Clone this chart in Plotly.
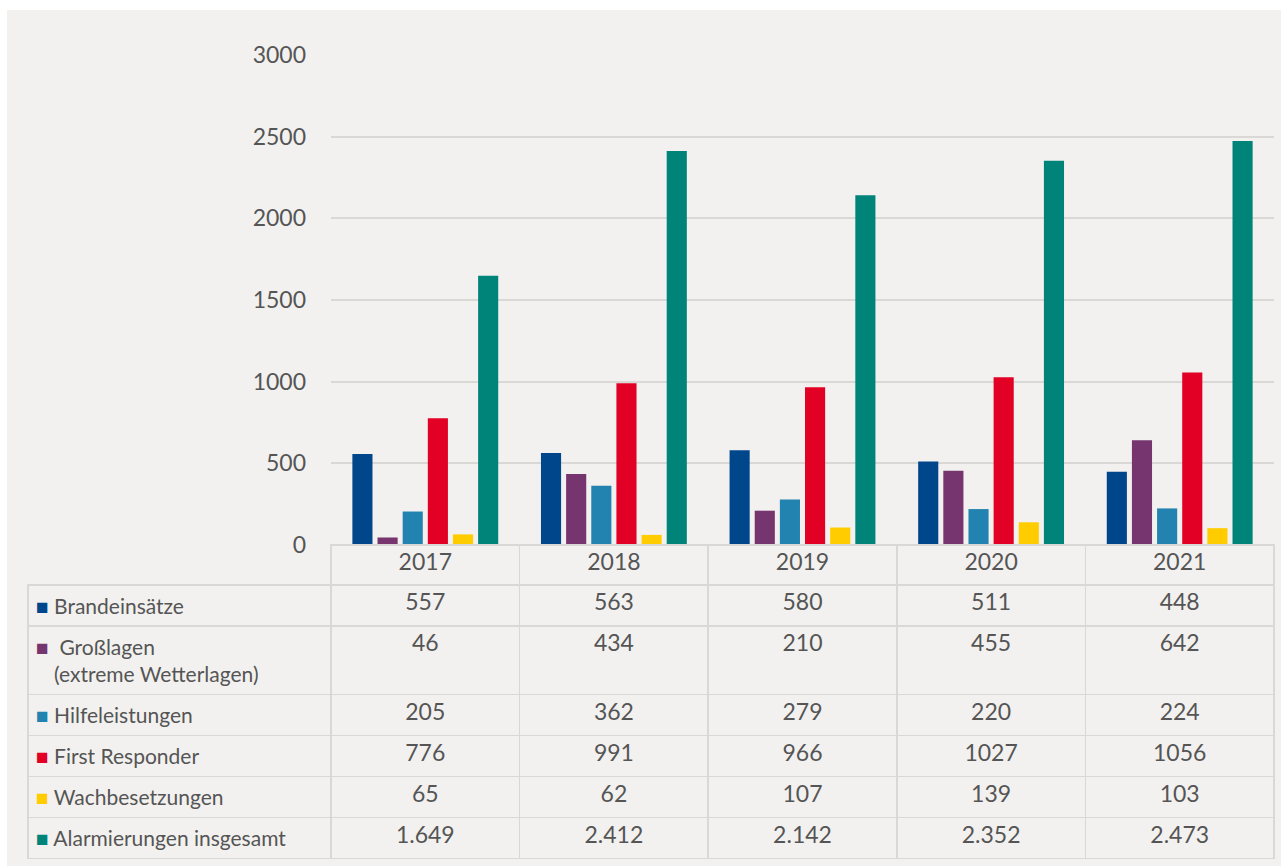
import plotly.graph_objects as go

years = ["2017", "2018", "2019", "2020", "2021"]
series_names = ["Brandeinsätze", "Großlagen (extreme Wetterlagen)", "Hilfeleistungen",
                "First Responder", "Wachbesetzungen", "Alarmierungen insgesamt"]
brand = [557, 563, 580, 511, 448]
grosslagen = [46, 434, 210, 455, 642]
hilfe = [205, 362, 279, 220, 224]
first_resp = [776, 991, 966, 1027, 1056]
wache = [65, 62, 107, 139, 103]
alarm = [1649, 2412, 2142, 2352, 2473]
colors = ["#00468b", "#76356f", "#2383b0", "#e30025", "#ffcc00", "#00847a"]
y_ticks = [0, 500, 1000, 1500, 2000, 2500, 3000]

values = [brand, grosslagen, hilfe, first_resp, wache, alarm]

W, H = 1281, 866
BG = "#f2f1ef"
GRID = "#dad8d5"
TXT = "#555555"
CLEAR = "rgba(0,0,0,0)"
FONT = "Lato"
FS = 23        # axis / header / value text
FS_LAB = 21    # first table column (row labels)

fig = go.Figure()
for name, vals, col in zip(series_names, values, colors):
    fig.add_trace(go.Bar(x=years, y=vals, name=name, marker=dict(color=col, line=dict(width=0)),
                         showlegend=False))

def fmt(v, total=False):
    return f"{v:,}".replace(",", ".") if total else str(v)

NB = "\u00a0"

def square(col):
    return f'<a href=""style="color:{col}">■</a>'

first_col = []
for i, (name, col) in enumerate(zip(series_names, colors)):
    if i == 1:
        a, b = name.split(" (")
        ghost = f'<span style="color:{BG}">■</span>'
        first_col.append(f'<span style="color:{col}">■</span>{NB}{NB}{a}<br>{ghost}{NB}({b.replace(" ", NB)}')
    else:
        first_col.append(f"{square(col)}{NB}{name.replace(' ', NB)}")

cols = [first_col]
for j in range(len(years)):
    cols.append([fmt(vals[j], total=(i == len(values) - 1)) for i, vals in enumerate(values)])

x0p, x1p = 331 / W, 1274 / W
fig.add_trace(go.Table(
    domain=dict(x=[28 / W, 1274 / W], y=[0, (H - 545) / H]),
    columnwidth=[303] + [188.6] * 5,
    header=dict(values=[""] + years, height=40,
                fill=dict(color=CLEAR), line=dict(color=[CLEAR] + [GRID] * 5, width=1.5),
                font=dict(family=FONT, size=FS, color=TXT), align="center"),
    cells=dict(values=cols, height=39,
               fill=dict(color=CLEAR), line=dict(color=GRID, width=1.5),
               font=dict(family=FONT, size=[FS_LAB] + [FS] * 5, color=TXT),
               align=["left"] + ["center"] * 5),
))

fig.update_layout(
    width=W, height=H,
    margin=dict(l=0, r=0, t=0, b=0, autoexpand=False),
    paper_bgcolor="white", plot_bgcolor="rgba(0,0,0,0)",
    barmode="group", bargap=0.2, bargroupgap=0.2,
    font=dict(family=FONT, size=FS, color=TXT),
    xaxis=dict(domain=[x0p, x1p], showticklabels=False, showgrid=False, zeroline=False,
               type="category", automargin=False),
    yaxis=dict(domain=[(H - 545) / H, (H - 55) / H], range=[0, 3000], tickvals=y_ticks,
               showgrid=True, gridcolor=GRID, gridwidth=1.5, zeroline=False, automargin=False,
               ticks="", ticklabelstandoff=24, tickfont=dict(family=FONT, size=FS, color=TXT)),
    shapes=[dict(type="rect", xref="paper", yref="paper", x0=7 / W, x1=1, y0=0, y1=(H - 10) / H,
                 fillcolor=BG, line=dict(width=0), layer="below")],
)

post = ("var gd=document.getElementById('{plot_id}');"
        "document.body.style.margin='0';document.body.style.padding='0';"
        "document.body.style.overflow='hidden';"
        "gd.style.position='absolute';gd.style.left='0px';gd.style.top='0px';")

fig.write_html("out.html", post_script=post, config={"displayModeBar": False})
